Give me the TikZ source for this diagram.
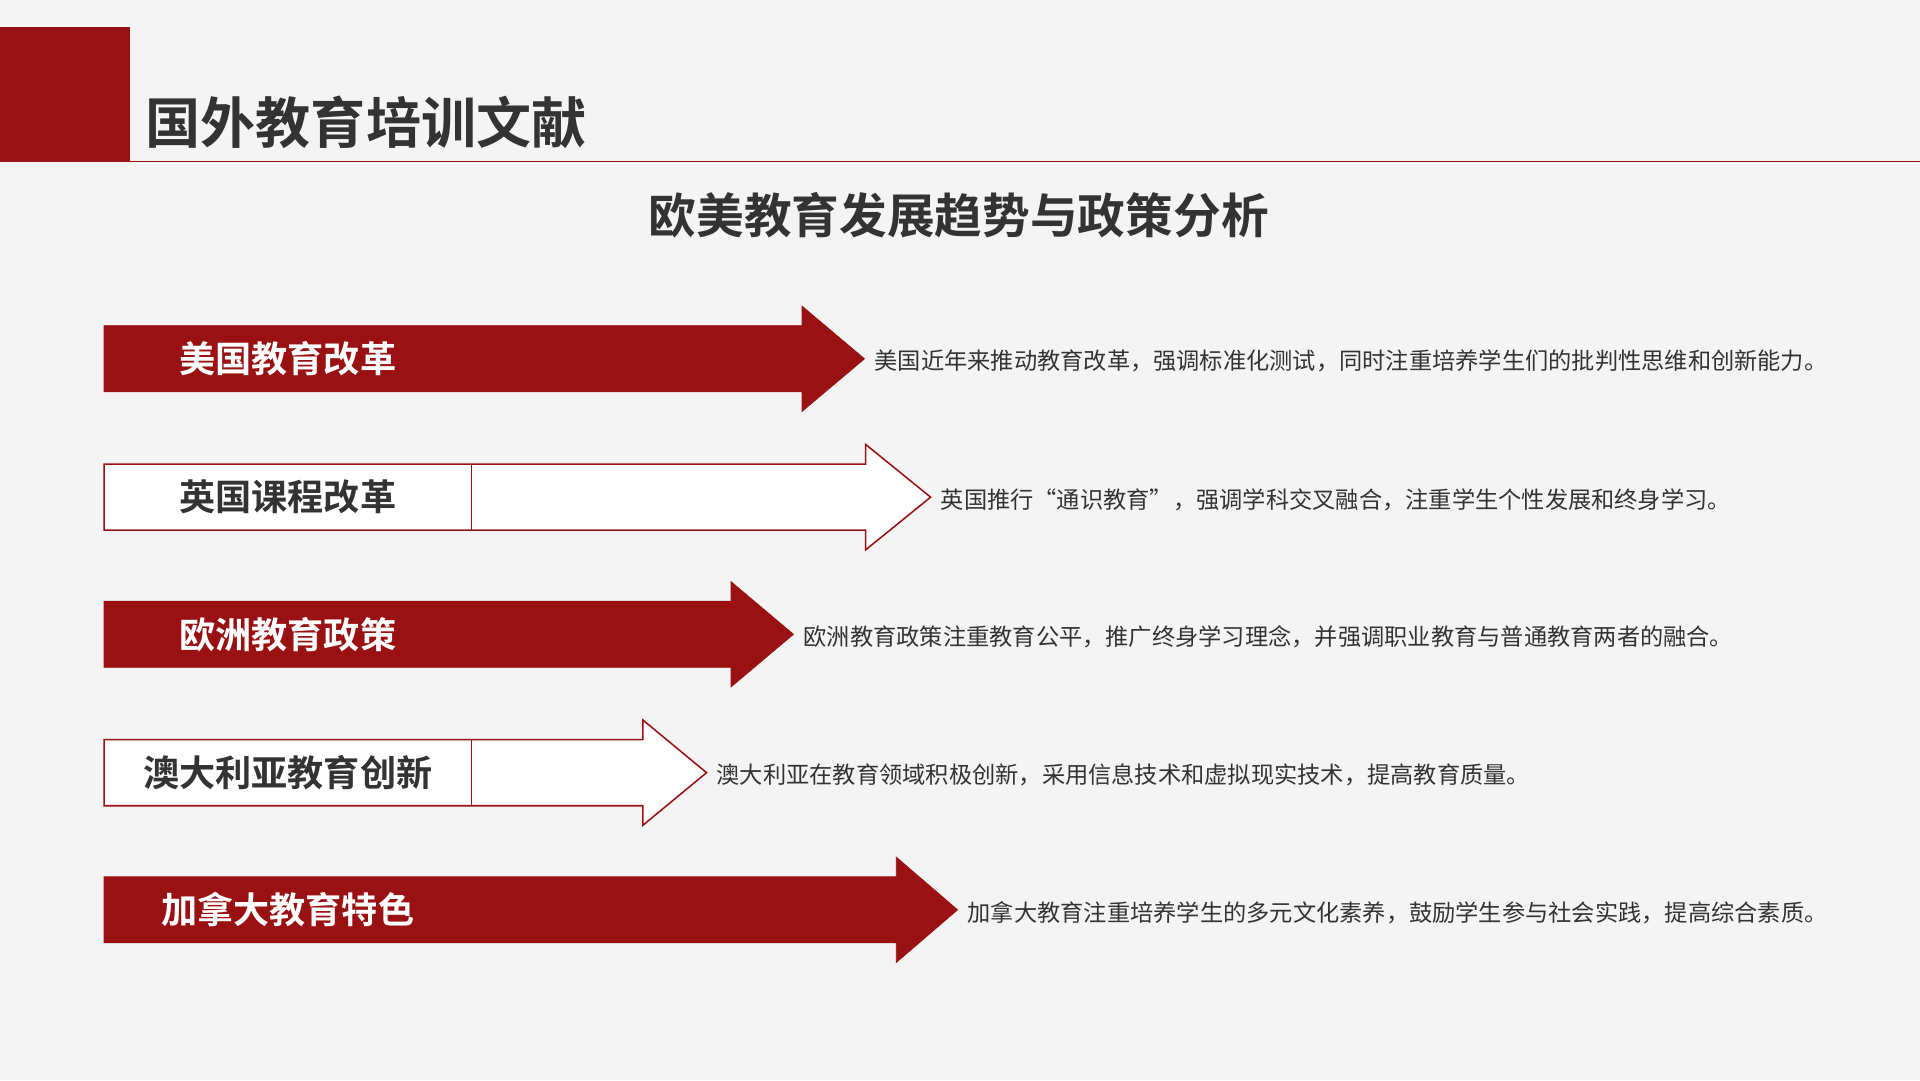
\documentclass[tikz,border=0pt]{standalone}
\usepackage{fontspec}
\setmainfont{Noto Sans CJK SC}
\newfontfamily\cjkbold{Noto Sans CJK SC Bold}
\definecolor{deepred}{HTML}{991112}
\definecolor{paper}{HTML}{F4F4F4}
\definecolor{ink}{HTML}{333333}
\tikzset{
  redbar/.style   = {fill=deepred, draw=deepred},
  hollowbar/.style = {fill=white, draw=deepred, line width=0.9pt},
  tagred/.style   = {font=\cjkbold\fontsize{21}{24}\selectfont, text=white},
  taghollow/.style = {font=\cjkbold\fontsize{21}{24}\selectfont, text=ink},
  desc/.style     = {anchor=west, align=left, text=ink,
                     font=\fontsize{13.5}{20.6}\selectfont, inner sep=0pt}
}
\begin{document}
\begin{tikzpicture}[x=0.25mm, y=-0.25mm]
  \useasboundingbox (0,0) rectangle (1568,882);
  \fill[paper] (0,0) rectangle (1568,882);
  % header
  \fill[deepred] (0,22) rectangle (106,132);
  \draw[deepred, line width=0.6pt] (106,132) -- (1568,132);
  \node[anchor=west, text=ink, font=\cjkbold\fontsize{32}{36}\selectfont]
    (title) at (114,100) {国外教育培训文献};
  \node[text=ink, font=\cjkbold\fontsize{27.7}{32}\selectfont]
    (subtitle) at (783,176) {欧美教育发展趋势与政策分析};
  % rows: y / head start / tip / bar style / tag style / tag / text width / text
  \foreach \y/\hs/\tip/\bar/\tag/\name/\w/\txt [count=\i] in {
    293/655/706/redbar/tagred/美国教育改革/740/{美国近年来推动教育改革，强调标准化测试，同时注重培养学生们的批判性思维和创新能力。},
    406/707/760/hollowbar/taghollow/英国课程改革/780/{英国推行“通识教育”，强调学科交叉融合，注重学生个性发展和终身学习。},
    518/597/648/redbar/tagred/欧洲教育政策/880/{欧洲教育政策注重教育公平，推广终身学习理念，并强调职业教育与普通教育两者的融合。},
    631/525/577/hollowbar/taghollow/澳大利亚教育创新/900/{澳大利亚在教育领域积极创新，采用信息技术和虚拟现实技术，提高教育质量。},
    743/732/782/redbar/tagred/加拿大教育特色/690/{加拿大教育注重培养学生的多元文化素养，鼓励学生参与社会实践，提高综合素质。}
  }{
    \draw[\bar] (85,\y-27) -- (\hs,\y-27) -- (\hs,\y-43) -- (\tip,\y)
      -- (\hs,\y+43) -- (\hs,\y+27) -- (85,\y+27) -- cycle;
    \draw[\bar] (385,\y-27) -- (385,\y+27);
    \node[\tag] (tag\i) at (235,\y) {\name};
    \node[desc, text width=\w*0.25mm] (txt\i) at (\tip+8,\y+2) {\txt};
  }
\end{tikzpicture}
\end{document}
